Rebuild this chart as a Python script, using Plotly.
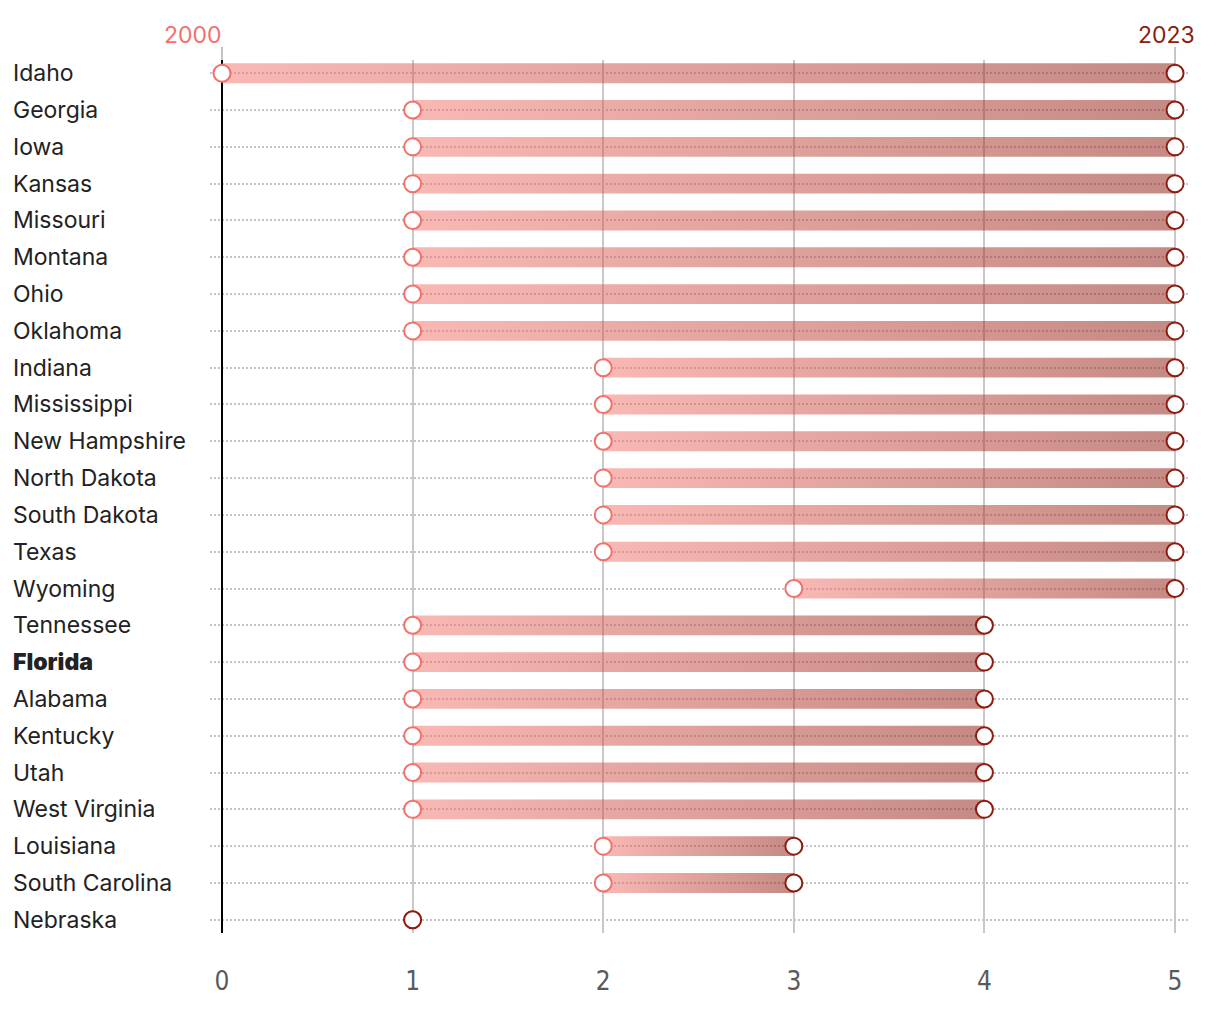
import plotly.graph_objects as go

states = ["Idaho", "Georgia", "Iowa", "Kansas", "Missouri", "Montana", "Ohio", "Oklahoma",
          "Indiana", "Mississippi", "New Hampshire", "North Dakota", "South Dakota", "Texas",
          "Wyoming", "Tennessee", "Florida", "Alabama", "Kentucky", "Utah", "West Virginia",
          "Louisiana", "South Carolina", "Nebraska"]
value_2000 = [0, 1, 1, 1, 1, 1, 1, 1, 2, 2, 2, 2, 2, 2, 3, 1, 1, 1, 1, 1, 1, 2, 2, 1]
value_2023 = [5, 5, 5, 5, 5, 5, 5, 5, 5, 5, 5, 5, 5, 5, 5, 4, 4, 4, 4, 4, 4, 3, 3, 1]
highlight = "Florida"
x_ticks = [0, 1, 2, 3, 4, 5]
year_start = "2000"
year_end = "2023"

C_START = "#f2716a"
C_END = "#8c1c10"
BAR_HALF = 0.27
LABEL_FONT = "Inter"
TICK_FONT = "DejaVu Sans Condensed, DejaVu Sans"

fig = go.Figure()

rows = list(range(len(states)))

# gradient bars
for i, (a, b) in enumerate(zip(value_2000, value_2023)):
    if b <= a:
        continue
    fig.add_trace(go.Scatter(
        x=[a, b, b, a, a],
        y=[i - BAR_HALF, i - BAR_HALF, i + BAR_HALF, i + BAR_HALF, i - BAR_HALF],
        mode="lines", line=dict(width=0), fill="toself",
        fillgradient=dict(type="horizontal",
                          colorscale=[[0, "rgba(242,113,106,0.5)"], [1, "rgba(140,20,8,0.5)"]]),
        hoverinfo="skip", showlegend=False))

# start markers
fig.add_trace(go.Scatter(
    x=value_2000, y=rows, mode="markers", cliponaxis=False,
    marker=dict(symbol="circle", size=17, color="white", line=dict(width=2, color=C_START)),
    showlegend=False, name=year_start))
# end markers
fig.add_trace(go.Scatter(
    x=value_2023, y=rows, mode="markers", cliponaxis=False,
    marker=dict(symbol="circle", size=17, color="white", line=dict(width=2, color=C_END)),
    showlegend=False, name=year_end))

# row labels
for i, s in enumerate(states):
    fig.add_annotation(
        x=0, xref="paper", xshift=-199, xanchor="left",
        y=i, yref="y", yanchor="middle", showarrow=False,
        text=s,
        font=dict(family=LABEL_FONT, size=23, color="#222222",
                  weight=900 if s == highlight else 400))

# top year labels
fig.add_annotation(x=0, xref="x", y=1, yref="paper", yanchor="bottom", yshift=9,
                   xanchor="right", xshift=2, showarrow=False, text=year_start,
                   font=dict(family=LABEL_FONT, size=23, color=C_START))
fig.add_annotation(x=5, xref="x", y=1, yref="paper", yanchor="bottom", yshift=9,
                   xanchor="right", xshift=22, showarrow=False, text=year_end,
                   font=dict(family=LABEL_FONT, size=23, color=C_END))

# small ticks above the plot at 0 and 5
for xv in (x_ticks[0], x_ticks[-1]):
    fig.add_shape(type="line", xref="x", yref="paper", x0=xv, x1=xv, y0=1, y1=1.015,
                  line=dict(color="#c4c4c4", width=2))

fig.update_layout(
    width=1220, height=1014,
    margin=dict(l=210, r=32, t=60, b=81),
    plot_bgcolor="white", paper_bgcolor="white",
    showlegend=False,
    xaxis=dict(range=[-0.063, 5.068], tickvals=x_ticks, ticktext=[str(t) for t in x_ticks],
               showgrid=True, gridcolor="#c8c8c8", gridwidth=2,
               zeroline=True, zerolinecolor="#000000", zerolinewidth=2,
               showline=False, ticks="", ticklabelstandoff=30,
               tickfont=dict(family=TICK_FONT, size=26, color="#5a5a5a"),
               fixedrange=True),
    yaxis=dict(range=[len(states) - 1 + 0.36, -0.36], tickvals=rows, showticklabels=False,
               showgrid=True, gridcolor="#c4c4c4", gridwidth=2, griddash="2px,2px",
               zeroline=False, showline=False, ticks="", fixedrange=True),
)

fig.write_html("out.html", config={"displayModeBar": False},
               post_script="document.body.style.margin='0px';")
